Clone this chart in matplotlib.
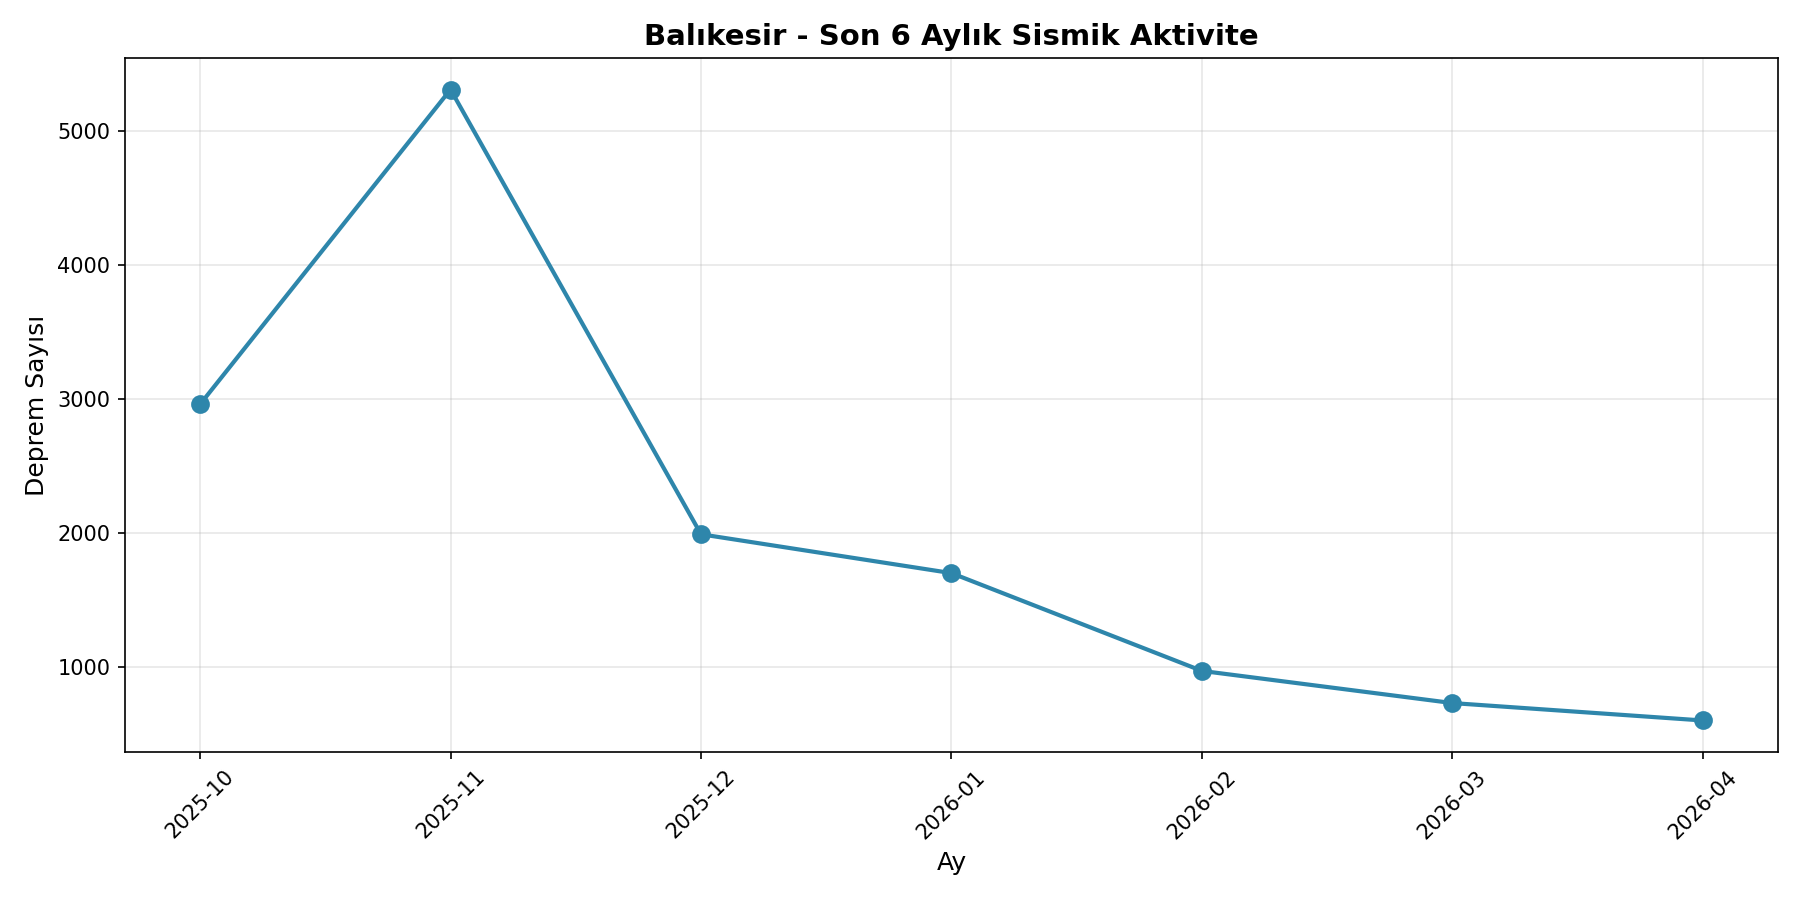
import matplotlib
matplotlib.use("Agg")
import matplotlib.pyplot as plt

months = ["2025-10", "2025-11", "2025-12", "2026-01", "2026-02", "2026-03", "2026-04"]
counts = [2960, 5310, 1990, 1700, 970, 730, 600]

fig, ax = plt.subplots(figsize=(12, 6), dpi=150)
ax.plot(months, counts, marker="o", linewidth=2, markersize=8, color="#2E86AB")
ax.set_title("Balıkesir - Son 6 Aylık Sismik Aktivite", fontsize=14, fontweight="bold")
ax.set_xlabel("Ay", fontsize=12)
ax.set_ylabel("Deprem Sayısı", fontsize=12)
ax.grid(True, alpha=0.3)
plt.setp(ax.get_xticklabels(), rotation=45)
fig.subplots_adjust(left=0.0694, right=0.9878, top=0.9356, bottom=0.1644)
fig.savefig("out.png", dpi=150)
